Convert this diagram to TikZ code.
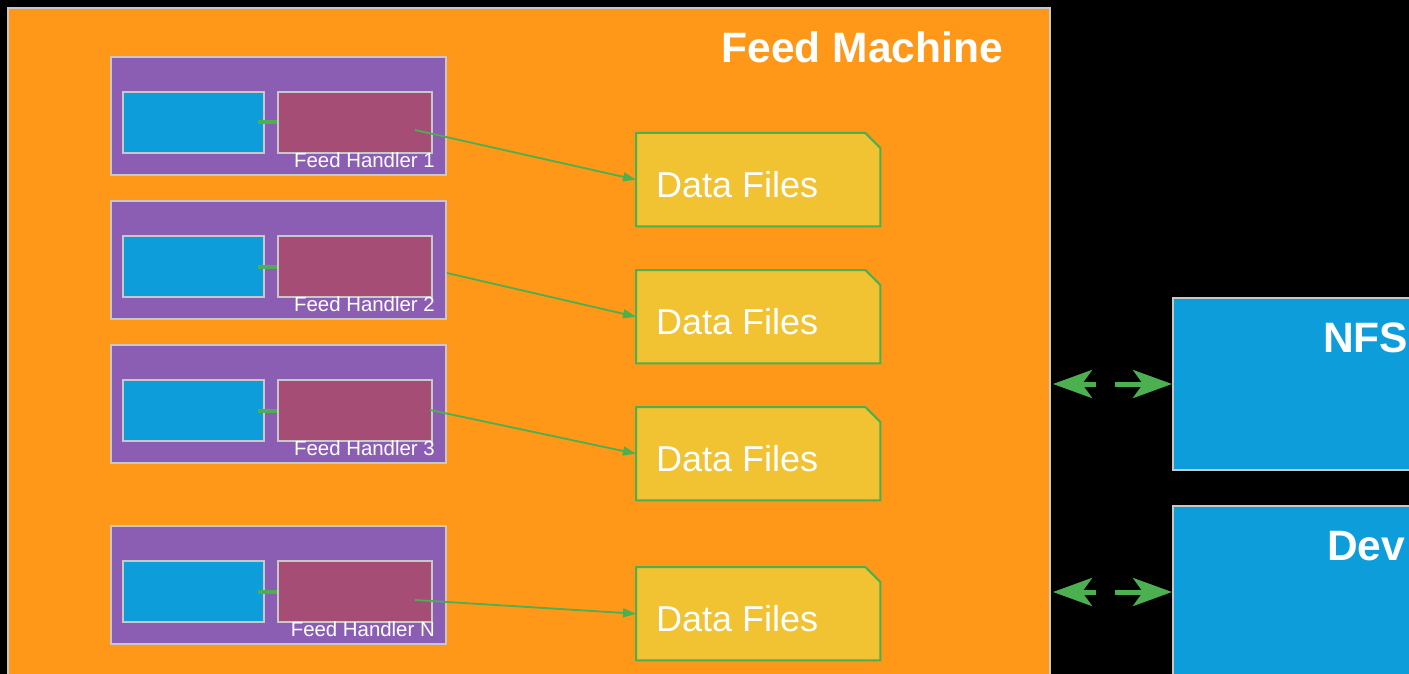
\documentclass[tikz,border=0pt]{standalone}
\usepackage{fontspec}
\setmainfont{Liberation Sans}
\usetikzlibrary{arrows.meta}

\definecolor{machine}{HTML}{FF9819}
\definecolor{handler}{HTML}{8B5EB4}
\definecolor{inblue}{HTML}{0D9DDB}
\definecolor{inred}{HTML}{A64D75}
\definecolor{filefill}{HTML}{F1C232}
\definecolor{linkgreen}{HTML}{4CAF50}
\definecolor{edgegray}{HTML}{C8C8C8}

\tikzset{
  box/.style={draw=edgegray, line width=2pt, inner sep=0pt, anchor=north west},
  machinebox/.style={box, fill=machine, minimum width=1042pt, minimum height=700pt},
  handlerbox/.style={box, fill=handler, minimum width=335pt, minimum height=118pt},
  queuebox/.style={box, fill=inblue, minimum width=141.5pt, minimum height=61pt},
  writerbox/.style={box, fill=inred, minimum width=154pt, minimum height=61pt},
  hostbox/.style={box, fill=inblue, minimum width=260pt, minimum height=172pt},
  fileslot/.style={inner sep=0pt, anchor=north west, minimum width=244pt, minimum height=93pt},
  filebox/.style={draw=linkgreen, fill=filefill, line width=2pt, line join=miter},
  filelabel/.style={text=white, inner sep=0pt, anchor=base west, font=\fontsize{36}{40}\selectfont},
  handlerlabel/.style={text=white, inner sep=0pt, anchor=base east, font=\fontsize{20.4}{24}\selectfont},
  titlelabel/.style={text=white, inner sep=0pt, font=\bfseries\fontsize{42.5}{48}\selectfont},
  innerlink/.style={draw=linkgreen, line width=4pt},
  writelink/.style={draw=linkgreen, line width=1.8pt, -{Triangle[length=13pt,width=9pt]}},
  mountlink/.style={draw=linkgreen, line width=5pt,
    dash pattern=on 16pt off 19pt on 60pt,
    {Stealth[length=39pt,width=28pt,inset=10pt]}-{Stealth[length=39pt,width=28pt,inset=10pt]}},
}

\begin{document}
\begin{tikzpicture}[x=1pt, y=-1pt]
  % page
  \fill[black] (0,0) rectangle (1409,674);
  \useasboundingbox (0,0) rectangle (1409,674);

  % the feed machine
  \node[machinebox] (machine) at (7,7) {};
  \node[titlelabel, anchor=base east] (title) at (1003,62.7) {Feed Machine};

  % feed handlers: queue -> writer
  \foreach \n/\t/\lab in {1/56/1, 2/200/2, 3/344/3, 4/525/N} {
    \node[handlerbox] (h\n) at (110,\t) {};
    \node[queuebox] (q\n) at (121.7,{\t+35}) {};
    \node[writerbox] (w\n) at (276.7,{\t+35}) {};
    \draw[innerlink] ([xshift=-7pt]q\n.east) -- (w\n.west);
    \node[handlerlabel] (hl\n) at (435,{\t+111.3}) {Feed Handler \lab};
  }

  % data files
  \foreach \n/\t in {1/133, 2/270, 3/407, 4/567} {
    \node[fileslot] (f\n) at (636,\t) {};
    \draw[filebox] (f\n.south west) -- (f\n.north west)
      -- ([xshift=-15pt]f\n.north east) -- ([yshift=-15pt]f\n.north east)
      -- (f\n.south east) -- cycle;
    \node[filelabel] (fl\n) at (656,{\t+64.3}) {Data Files};
  }

  % writers to data files
  \coordinate (s1) at (415,130);
  \coordinate (s2) at (447,273);
  \coordinate (s3) at (430,410);
  \coordinate (s4) at (415,600);
  \foreach \n in {1,2,3,4} {
    \draw[writelink] (s\n) -- (f\n.west);
  }

  % remote hosts
  \node[hostbox] (nfs) at (1172,297) {};
  \node[titlelabel, anchor=base west] (nfslabel) at (1323,352) {NFS};
  \node[hostbox] (dev) at (1172,505) {};
  \node[titlelabel, anchor=base west] (devlabel) at (1327,560) {Dev};

  % mounts between the machine and the hosts
  \coordinate (p1) at (1053,384);
  \coordinate (p2) at (1053,592);
  \draw[mountlink] (p1) -- (nfs.west);
  \draw[mountlink] (p2) -- (dev.west);
\end{tikzpicture}
\end{document}
